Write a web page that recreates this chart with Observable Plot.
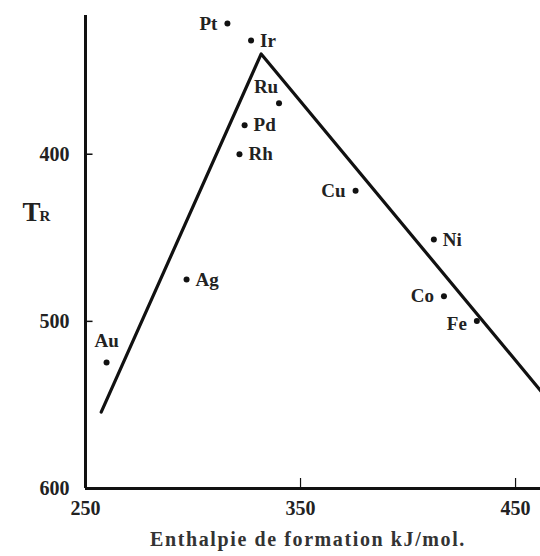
<!DOCTYPE html>
<html><head><meta charset="utf-8">
<script src="https://cdn.jsdelivr.net/npm/d3@7"></script>
<script src="https://cdn.jsdelivr.net/npm/@observablehq/plot@0.6"></script>
<style>
html,body{margin:0;padding:0;background:#fff;}
svg{font-family:"Liberation Serif","DejaVu Serif",serif;}
</style>
</head><body>
<div id="chart"></div>
<script>
const elements = ["Pt","Ir","Ru","Pd","Rh","Cu","Ni","Co","Fe","Ag","Au"];
const enthalpy = [316, 327, 340, 324, 321.6, 375.6, 412, 416.7, 432, 297, 259.8];
const tr = [321.8, 332, 369.5, 382.7, 400, 421.8, 451, 485, 499.8, 475, 524.6];
const labelSide = ["left","right","aboveLeft","right","right","left","right","left","leftLow","right","above"];
const lineX = [257.3, 331.7, 462];
const lineY = [554.3, 340, 542];
const xTicks = [250, 350, 450];
const yTicks = [400, 500, 600];

const pts = elements.map((e,i)=>({e, x:enthalpy[i], y:tr[i], side:labelSide[i]}));
const line = lineX.map((x,i)=>({x, y:lineY[i]}));
const font = {fontFamily:"Liberation Serif", fontWeight:"bold", fontSize:19, fill:"#222"};
const by = s => pts.filter(d=>d.side===s);

const chart = Plot.plot({
  width:540, height:556,
  marginLeft:85, marginRight:0, marginTop:15, marginBottom:68,
  x:{domain:[250,461.6]},
  y:{domain:[317,600], reverse:true},
  style:{fontFamily:"Liberation Serif", background:"#fff"},
  marks:[
    Plot.line(line,{x:"x", y:"y", stroke:"#111", strokeWidth:3.2, clip:true}),
    Plot.ruleX([250],{stroke:"#111", strokeWidth:3}),
    Plot.ruleY([600],{stroke:"#111", strokeWidth:3}),
    Plot.ruleY([400,500],{x1:250, x2:253.5, stroke:"#111", strokeWidth:1.5}),
    Plot.ruleX([350,450],{y1:600, y2:594, stroke:"#111", strokeWidth:1.2}),
    Plot.axisY(yTicks,{tickSize:0, tickPadding:16, label:null, ...font, fontSize:20}),
    Plot.axisX(xTicks,{tickSize:0, tickPadding:12, label:null, ...font, fontSize:20}),
    Plot.text(["T"],{frameAnchor:"left", y:[435], dx:-63, ...font, fontSize:27}),
    Plot.text(["R"],{frameAnchor:"left", y:[435], dx:-46, dy:3, ...font, fontSize:15}),
    Plot.text(["Enthalpie de formation kJ/mol."],{frameAnchor:"bottom", dx:-5, dy:57, ...font, fontSize:20, fill:"#333"}),
    Plot.dot(pts,{x:"x", y:"y", r:3, fill:"#111", stroke:"none"}),
    Plot.text(by("right"),{x:"x", y:"y", text:"e", textAnchor:"start", dx:9, ...font}),
    Plot.text(by("left"),{x:"x", y:"y", text:"e", textAnchor:"end", dx:-10, ...font}),
    Plot.text(by("leftLow"),{x:"x", y:"y", text:"e", textAnchor:"end", dx:-10, dy:3, ...font}),
    Plot.text(by("aboveLeft"),{x:"x", y:"y", text:"e", textAnchor:"middle", dx:-13, dy:-16, ...font}),
    Plot.text(by("above"),{x:"x", y:"y", text:"e", textAnchor:"middle", dy:-22, ...font})
  ]
});
d3.select(chart).selectAll("text").filter(function(){return this.textContent.startsWith("Enthalpie");}).attr("letter-spacing","1.6px");
document.getElementById("chart").append(chart);
</script>
</body></html>
